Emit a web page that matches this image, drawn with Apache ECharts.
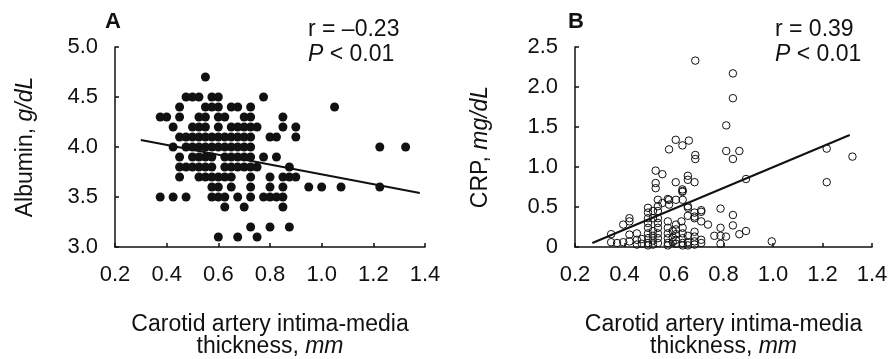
<!DOCTYPE html>
<html><head><meta charset="utf-8">
<script src="https://cdn.jsdelivr.net/npm/echarts@6/dist/echarts.min.js"></script>
<style>html,body{margin:0;padding:0;background:#fff}#c{width:891px;height:359px}</style>
</head><body><div id="c"></div>
<script>
// ---------- Panel A: Albumin (g/dL) vs carotid IMT (mm) ----------
const albuminRowValues = [4.7, 4.5, 4.4, 4.3, 4.2, 4.1, 4.0, 3.9, 3.8, 3.7, 3.6, 3.5, 3.4, 3.2, 3.1];
const albuminRowIMT = [
  [0.55],
  [0.475, 0.5, 0.525, 0.575, 0.6, 0.775],
  [0.45, 0.55, 0.575, 0.6, 0.65, 0.675, 0.725, 1.05],
  [0.375, 0.4, 0.45, 0.525, 0.55, 0.6, 0.625, 0.7, 0.725, 0.85],
  [0.425, 0.5, 0.525, 0.55, 0.6, 0.65, 0.675, 0.7, 0.725, 0.75, 0.85, 0.9],
  [0.45, 0.475, 0.5, 0.525, 0.55, 0.575, 0.6, 0.625, 0.65, 0.675, 0.7, 0.725, 0.8, 0.825, 0.9],
  [0.425, 0.475, 0.5, 0.525, 0.55, 0.575, 0.6, 0.625, 0.65, 0.675, 0.7, 0.725, 1.225, 1.325],
  [0.45, 0.5, 0.525, 0.55, 0.575, 0.625, 0.65, 0.675, 0.7, 0.725, 0.775, 0.825],
  [0.45, 0.475, 0.5, 0.525, 0.55, 0.575, 0.625, 0.65, 0.675, 0.7, 0.725, 0.75, 0.875],
  [0.45, 0.525, 0.55, 0.575, 0.6, 0.625, 0.65, 0.725, 0.8, 0.85, 0.875, 0.9],
  [0.575, 0.6, 0.65, 0.725, 0.8, 0.85, 0.95, 1.0, 1.075, 1.225],
  [0.375, 0.425, 0.475, 0.575, 0.6, 0.625, 0.675, 0.725, 0.775, 0.8, 0.825, 0.85],
  [0.625, 0.7, 0.85],
  [0.725, 0.8, 0.875],
  [0.6, 0.675, 0.75]
];
const albuminFitIMT = [0.30, 1.38];
const albuminFitValues = [4.07, 3.54];

// ---------- Panel B: CRP (mg/dL) vs carotid IMT (mm) ----------
const crpIMT = [
  0.686, 0.838, 0.838, 0.811, 0.811, 0.864, 0.838, 0.891, 1.217, 1.321, 1.217, 0.995,
  0.607, 0.580, 0.634, 0.660, 0.686, 0.686,
  0.526, 0.553, 0.526, 0.526, 0.607, 0.656, 0.656, 0.683, 0.634, 0.634,
  0.580, 0.553, 0.580, 0.656, 0.710, 0.683, 0.630, 0.710, 0.737,
  0.788, 0.838, 0.864, 0.891, 0.763, 0.788, 0.810, 0.788, 0.710, 0.838, 0.788,
  0.346, 0.346, 0.370, 0.395, 0.395, 0.420, 0.420, 0.420, 0.420, 0.450, 0.450, 0.450, 0.470, 0.470,
  0.495, 0.495, 0.495, 0.495, 0.495, 0.495, 0.495, 0.495, 0.495,
  0.515, 0.515, 0.515, 0.515, 0.515, 0.515,
  0.535, 0.535, 0.535, 0.535, 0.535, 0.535, 0.535, 0.535, 0.535,
  0.575, 0.575, 0.575, 0.575, 0.575, 0.575, 0.575,
  0.595, 0.595, 0.595,
  0.608, 0.608, 0.608, 0.608, 0.608, 0.608,
  0.635, 0.635, 0.635, 0.635, 0.635, 0.635, 0.635,
  0.656, 0.656, 0.656, 0.656, 0.656,
  0.683, 0.683, 0.683, 0.683, 0.683, 0.683,
  0.710, 0.710
];
const crpValues = [
  2.33, 2.17, 1.86, 1.52, 1.20, 1.20, 1.10, 0.85, 1.23, 1.13, 0.81, 0.07,
  1.34, 1.22, 1.27, 1.33, 1.15, 1.10,
  0.955, 0.91, 0.80, 0.735, 0.81, 0.89, 0.84, 0.81, 0.72, 0.69,
  0.59, 0.55, 0.53, 0.51, 0.44, 0.38, 0.32, 0.32, 0.28,
  0.48, 0.40, 0.16, 0.20, 0.14, 0.14, 0.13, 0.24, 0.09, 0.27, 0.04,
  0.16, 0.06, 0.05, 0.28, 0.06, 0.36, 0.32, 0.155, 0.07, 0.17, 0.09, 0.03, 0.10, 0.04,
  0.49, 0.43, 0.36, 0.30, 0.24, 0.17, 0.11, 0.05, 0.02,
  0.45, 0.36, 0.20, 0.14, 0.08, 0.03,
  0.59, 0.51, 0.45, 0.36, 0.30, 0.24, 0.17, 0.11, 0.05,
  0.60, 0.32, 0.24, 0.17, 0.11, 0.05, 0.02,
  0.20, 0.12, 0.06,
  0.59, 0.28, 0.22, 0.16, 0.09, 0.04,
  0.70, 0.59, 0.24, 0.17, 0.11, 0.05, 0.02,
  0.49, 0.39, 0.14, 0.06, 0.02,
  0.43, 0.36, 0.19, 0.13, 0.07, 0.03,
  0.46, 0.05
];
const crpFitIMT = [0.27, 1.31];
const crpFitValues = [0.05, 1.40];

// ---------- Text ----------
const panelLabels = ['A', 'B'];
const statR = ['r = \u20130.23', 'r = 0.39'];
const statP = ['{i|P} < 0.01', '{i|P} < 0.01'];
const xTitle = '{n|Carotid artery intima-media}\n{n|thickness, }{i|mm}';
const yTitles = ['{n|Albumin, }{i|g/dL}', '{n|CRP, }{i|mg/dL}'];

const FONT = 'Liberation Sans, Arial, Helvetica, sans-serif';
const INK = '#111';

const albuminPoints = [];
albuminRowValues.forEach((v, i) => albuminRowIMT[i].forEach(x => albuminPoints.push([x, v])));
const crpPoints = crpIMT.map((x, i) => [x, crpValues[i]]);
const zip = (a, b) => a.map((x, i) => [x, b[i]]);

const titleRich = {
  n: { fontSize: 23, fontFamily: FONT, color: INK, lineHeight: 22 },
  i: { fontSize: 23, fontFamily: FONT, color: INK, lineHeight: 22, fontStyle: 'italic' }
};

function xAxis(gridIndex) {
  return {
    gridIndex, type: 'value', min: 0.2, max: 1.4, interval: 0.2,
    axisLine: { show: true, lineStyle: { color: INK, width: 1.5 } },
    axisTick: { show: true, inside: true, length: 4, lineStyle: { color: INK, width: 1.5 } },
    axisLabel: { color: INK, fontSize: 22, fontFamily: FONT, margin: 17, formatter: v => v.toFixed(1) },
    splitLine: { show: false },
    name: xTitle, nameLocation: 'middle', nameGap: 67,
    nameTextStyle: { rich: titleRich, align: 'center' }
  };
}
function yAxis(gridIndex, min, max, gap, fmt) {
  return {
    gridIndex, type: 'value', min, max, interval: 0.5,
    axisLine: { show: true, lineStyle: { color: INK, width: 1.5 } },
    axisTick: { show: true, inside: true, length: 4, lineStyle: { color: INK, width: 1.5 } },
    axisLabel: { color: INK, fontSize: 22, fontFamily: FONT, margin: 17, formatter: fmt },
    splitLine: { show: false },
    name: yTitles[gridIndex], nameLocation: 'middle', nameGap: gap, nameRotate: 90,
    nameTextStyle: { rich: titleRich }
  };
}

const graphics = [];
[[105, 308], [568, 775]].forEach((pos, k) => {
  graphics.push({ type: 'text', x: pos[0], y: 21.5, style: { text: panelLabels[k], font: 'bold 22px ' + FONT, fill: INK, verticalAlign: 'middle' } });
  graphics.push({ type: 'text', x: pos[1], y: 30, style: { text: statR[k], font: '23px ' + FONT, fill: INK, verticalAlign: 'middle' } });
  graphics.push({ type: 'text', x: pos[1], y: 55, style: { text: statP[k], font: '23px ' + FONT, fill: INK, verticalAlign: 'middle',
    rich: { i: { fontStyle: 'italic', fontSize: 23, fontFamily: FONT, fill: INK } } } });
});

const chart = echarts.init(document.getElementById('c'), null, { renderer: 'canvas' });
chart.setOption({
  animation: false,
  backgroundColor: '#fff',
  grid: [
    { left: 115, top: 47, width: 310, height: 200, outerBoundsMode: 'none', containLabel: false },
    { left: 575, top: 47, width: 297, height: 200, outerBoundsMode: 'none', containLabel: false }
  ],
  xAxis: [xAxis(0), xAxis(1)],
  yAxis: [
    yAxis(0, 3, 5, 78, v => v.toFixed(1)),
    yAxis(1, 0, 2.5, 83, v => v === 0 ? '0' : v.toFixed(1))
  ],
  series: [
    { type: 'scatter', xAxisIndex: 0, yAxisIndex: 0, data: albuminPoints, symbol: 'circle', symbolSize: 9,
      itemStyle: { color: INK, opacity: 1 }, silent: true },
    { type: 'line', xAxisIndex: 0, yAxisIndex: 0, data: zip(albuminFitIMT, albuminFitValues), symbol: 'none',
      lineStyle: { color: INK, width: 2 }, silent: true, z: 3 },
    { type: 'scatter', xAxisIndex: 1, yAxisIndex: 1, data: crpPoints, symbol: 'circle', symbolSize: 7.5,
      itemStyle: { color: 'rgba(255,255,255,0)', borderColor: INK, borderWidth: 1, opacity: 1 }, silent: true },
    { type: 'line', xAxisIndex: 1, yAxisIndex: 1, data: zip(crpFitIMT, crpFitValues), symbol: 'none',
      lineStyle: { color: INK, width: 2 }, silent: true, z: 3 }
  ],
  graphic: graphics
});
</script>
</body></html>
